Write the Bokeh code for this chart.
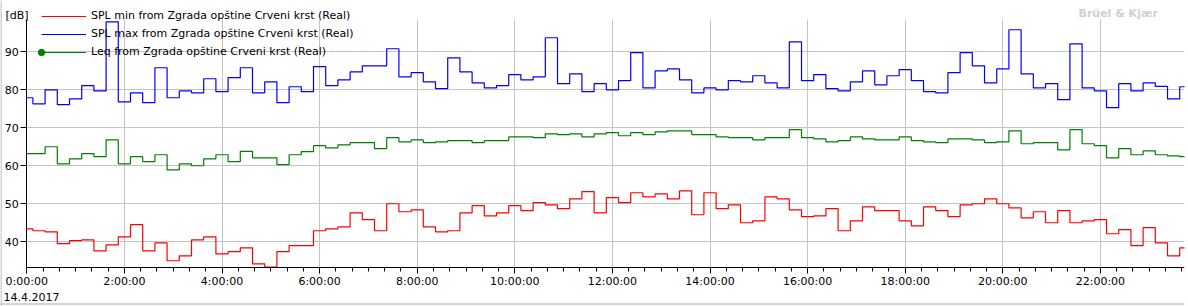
import numpy as np
from bokeh.plotting import figure
from bokeh.models import Range1d, FixedTicker, Legend, LegendItem, Label, Span
from bokeh.embed import file_html
from bokeh.resources import INLINE

# 15-minute records; first record starts 7.5 min before midnight
first_start_h = -0.125
interval_h = 0.25
view_start_h = 0.0
view_end_h = 23.723
db_low, db_high = 33.3, 98.5

spl_max = [77.9, 76.3, 80.0, 76.1, 77.6, 81.1, 79.7, 97.9, 76.8, 79.2, 76.6, 85.8,
           77.9, 79.7, 79.2, 82.9, 79.5, 83.2, 85.8, 79.2, 82.1, 76.6, 80.8, 79.5,
           86.1, 81.1, 82.6, 84.7, 86.3, 86.3, 90.8, 83.4, 84.5, 82.1, 80.3, 88.4,
           84.7, 81.8, 80.5, 81.1, 84.0, 82.6, 83.4, 93.7, 81.6, 84.2, 79.5, 81.6,
           80.0, 82.4, 89.8, 80.5, 85.0, 85.5, 82.6, 79.2, 80.5, 80.0, 82.4, 82.1,
           83.7, 81.8, 80.5, 92.6, 82.4, 84.0, 80.3, 79.7, 82.1, 85.0, 81.3, 83.7,
           85.3, 82.4, 79.5, 79.2, 84.5, 89.8, 86.3, 81.8, 85.5, 95.8, 84.2, 80.5,
           81.6, 77.4, 92.1, 80.5, 79.7, 75.3, 81.6, 79.7, 81.8, 80.9, 77.6, 80.8]

leq = [63.2, 63.2, 65.0, 60.5, 61.8, 63.2, 62.4, 66.8, 60.5, 62.4, 61.1, 62.9,
       58.9, 60.5, 60.0, 61.8, 62.9, 61.1, 63.8, 62.1, 62.1, 60.3, 62.9, 63.7,
       65.3, 64.7, 65.5, 66.1, 66.1, 64.5, 67.4, 66.3, 66.8, 66.1, 66.3, 66.6,
       66.6, 66.1, 66.6, 66.6, 67.6, 67.6, 67.4, 68.4, 68.2, 68.4, 67.6, 68.4,
       68.7, 67.9, 68.7, 68.2, 68.9, 69.2, 69.2, 68.2, 68.2, 67.6, 67.4, 67.4,
       66.8, 67.4, 67.4, 69.5, 67.4, 67.1, 66.3, 66.6, 67.6, 67.1, 66.8, 66.8,
       67.6, 66.6, 66.3, 66.1, 67.1, 67.1, 66.8, 66.1, 66.3, 69.2, 65.8, 66.1,
       66.1, 64.2, 69.5, 65.8, 65.3, 62.1, 64.5, 62.9, 63.9, 62.9, 62.6, 62.4]

spl_min = [43.4, 42.9, 42.6, 39.5, 40.3, 40.5, 37.6, 39.2, 41.3, 44.5, 37.6, 39.7,
           35.0, 36.3, 40.5, 41.3, 36.8, 37.4, 38.4, 34.2, 33.3, 37.4, 39.0, 39.0,
           42.9, 43.4, 43.9, 47.6, 45.8, 42.9, 50.0, 47.9, 48.4, 43.9, 42.6, 42.9,
           47.6, 49.5, 46.8, 47.6, 49.5, 48.2, 50.3, 49.7, 48.7, 51.3, 53.2, 47.6,
           51.6, 50.3, 52.9, 51.8, 52.6, 51.3, 53.4, 47.1, 52.9, 48.7, 49.7, 45.0,
           45.5, 51.8, 51.3, 48.4, 46.6, 46.8, 48.7, 42.9, 45.5, 49.2, 48.2, 48.2,
           45.5, 44.2, 49.2, 48.2, 46.6, 49.7, 50.0, 51.3, 50.0, 48.9, 46.3, 47.9,
           45.0, 48.2, 45.0, 45.5, 45.8, 42.1, 43.2, 39.0, 43.7, 39.7, 36.3, 38.4]

x_tick_hours = [0, 2, 4, 6, 8, 10, 12, 14, 16, 18, 20, 22]
x_tick_labels = ["0:00:00", "2:00:00", "4:00:00", "6:00:00", "8:00:00", "10:00:00",
                 "12:00:00", "14:00:00", "16:00:00", "18:00:00", "20:00:00", "22:00:00"]
y_ticks = [40, 50, 60, 70, 80, 90]
date_text = "14.4.2017"
unit_text = "[dB]"
brand_text = "Brüel & Kjær"
names = ["SPL min from Zgrada opštine Crveni krst (Real)",
         "SPL max from Zgrada opštine Crveni krst (Real)",
         "Leq from Zgrada opštine Crveni krst (Real)"]

FONT = "DejaVu Sans"
W, H = 1188, 306
PLOT_LEFT, PLOT_TOP, PLOT_BOTTOM = 26.3, 19.0, 266.7


def record_starts(n):
    return first_start_h + interval_h * np.arange(n)


def staircase(vals):
    starts = record_starts(len(vals))
    ends = starts + interval_h
    starts = np.maximum(starts, view_start_h)
    xs = np.column_stack([starts, ends]).ravel()
    ys = np.repeat(np.asarray(vals, dtype=float), 2)
    return xs, ys


# frame covers the whole canvas (except 4px on the right); axes are pinned inside
frame_w = W - 4
px_per_h = (frame_w - PLOT_LEFT) / (view_end_h - view_start_h)
x_start = view_start_h - PLOT_LEFT / px_per_h
px_per_db = (PLOT_BOTTOM - PLOT_TOP) / (db_high - db_low)
y_end = db_high + PLOT_TOP / px_per_db
y_start = db_low - (H - PLOT_BOTTOM) / px_per_db

p = figure(width=W, height=H, output_backend="svg", toolbar_location=None,
           x_range=Range1d(x_start, view_end_h), y_range=Range1d(y_start, y_end),
           min_border_left=0, min_border_right=4, min_border_top=0,
           min_border_bottom=0)
p.outline_line_color = None
p.background_fill_color = "white"
p.border_fill_color = "white"

xax, yax = p.xaxis[0], p.yaxis[0]
xax.fixed_location = db_low
yax.fixed_location = view_start_h
xax.bounds = (view_start_h, view_end_h)
yax.bounds = (db_low, db_high)
xax.ticker = FixedTicker(ticks=x_tick_hours,
                         minor_ticks=list(np.arange(0, 24, 1 / 3)))
xax.major_label_overrides = {h: l for h, l in zip(x_tick_hours, x_tick_labels)}
yax.ticker = FixedTicker(ticks=y_ticks, minor_ticks=[])
for ax in (xax, yax):
    ax.axis_line_color = "black"
    ax.major_tick_line_color = "black"
    ax.minor_tick_line_color = "black"
    ax.major_tick_in = 0
    ax.minor_tick_in = 0
    ax.major_label_text_font = FONT
    ax.major_label_text_font_size = "11px"
    ax.major_label_text_color = "black"
    ax.major_label_standoff = 2
xax.major_tick_out = 6
xax.minor_tick_out = 4
yax.major_tick_out = 6
yax.minor_tick_out = 0

xg, yg = p.xgrid[0], p.ygrid[0]
xg.ticker = FixedTicker(ticks=x_tick_hours)
yg.ticker = FixedTicker(ticks=y_ticks)
GRID = "#c4c4c4"
if hasattr(xg, "cross_bounds"):
    xg.cross_bounds = (db_low, db_high)
    yg.cross_bounds = (view_start_h, view_end_h)
    xg.grid_line_color = GRID
    yg.grid_line_color = GRID
else:
    xg.grid_line_color = None
    yg.grid_line_color = None
    p.segment(x0=x_tick_hours, x1=x_tick_hours, y0=[db_low] * len(x_tick_hours),
              y1=[db_high] * len(x_tick_hours), line_color=GRID, level="underlay")
    p.segment(x0=[view_start_h] * len(y_ticks), x1=[view_end_h] * len(y_ticks),
              y0=y_ticks, y1=y_ticks, line_color=GRID, level="underlay")

xs, ys = staircase(spl_min)
r_min = p.line(xs, ys, line_color="#ff0000", line_width=1.2)
xs, ys = staircase(spl_max)
r_max = p.line(xs, ys, line_color="#0000ff", line_width=1.2)
xs, ys = staircase(leq)
r_leq = p.line(xs, ys, line_color="#008000", line_width=1.2)
# marker only appears in the legend (hidden in the chart itself)
r_leq_marker = p.scatter(record_starts(len(leq)), leq, size=7, color="#008000",
                         visible=False)

LEG_X, LEG_BOTTOM, ROW = 41, H - 60.5, 18
legend = Legend(items=[LegendItem(label=names[0], renderers=[r_min]),
                       LegendItem(label=names[1], renderers=[r_max]),
                       LegendItem(label=names[2], renderers=[r_leq])],
                location=(LEG_X, LEG_BOTTOM), padding=0, spacing=0, margin=0,
                label_height=ROW, glyph_height=ROW, glyph_width=45, label_standoff=5,
                label_text_font=FONT, label_text_font_size="11px",
                label_text_color="black",
                background_fill_alpha=0, border_line_color=None)
p.add_layout(legend)
# the Leq marker sits at the left end of its legend line
MK = 16
marker_legend = Legend(items=[LegendItem(label="", renderers=[r_leq_marker])],
                       location=(LEG_X - MK / 2, LEG_BOTTOM + (ROW - MK) / 2),
                       padding=0, spacing=0, margin=0, label_height=MK,
                       glyph_height=MK, glyph_width=MK, label_standoff=0,
                       label_text_font_size="1px",
                       background_fill_alpha=0, border_line_color=None)
p.add_layout(marker_legend)

p.add_layout(Label(x=3, y=H - 296, x_units="screen", y_units="screen", text=date_text,
                   text_font=FONT, text_font_size="11px", text_color="black",
                   text_baseline="middle"))
p.add_layout(Label(x=5, y=H - 14.5, x_units="screen", y_units="screen", text=unit_text,
                   text_font=FONT, text_font_size="11px", text_color="black",
                   text_baseline="middle"))
p.add_layout(Label(x=1078, y=H - 12.7, x_units="screen", y_units="screen", text=brand_text,
                   text_font=FONT, text_font_size="11px", text_font_style="bold",
                   text_color="#d0d0d0", text_baseline="middle"))

# window frame lines of the original application
p.add_layout(Span(location=0.5, dimension="height", location_units="screen",
                  line_color="#a8a8a8", line_width=1))
p.add_layout(Span(location=2.5, dimension="width", location_units="screen",
                  line_color="#a8a8a8", line_width=1))

open("out.html", "w").write(file_html(p, INLINE))
